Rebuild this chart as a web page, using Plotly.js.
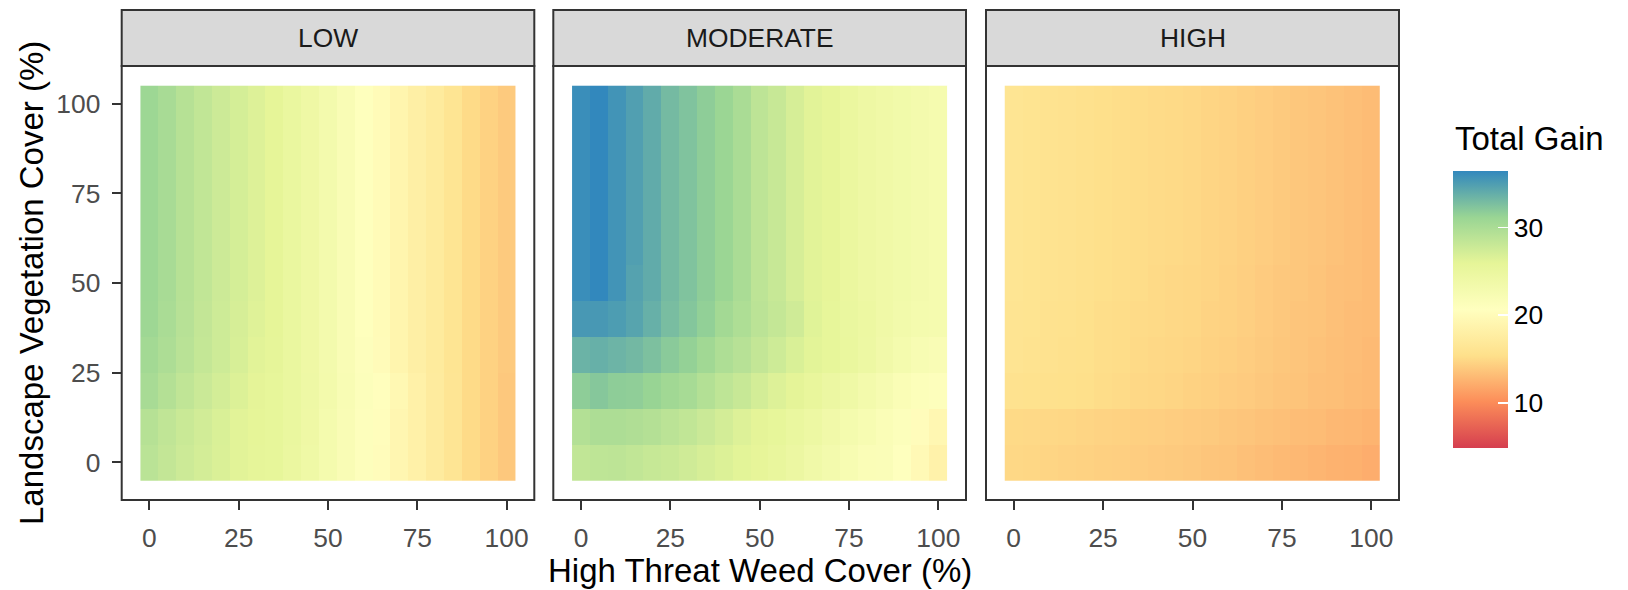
<!DOCTYPE html>
<html>
<head>
<meta charset="utf-8">
<script src="https://cdn.plot.ly/plotly-3.0.1.min.js"></script>
<style>html,body{margin:0;padding:0;background:#fff;}#chart{width:1628px;height:590px;}</style>
</head>
<body>
<div id="chart"></div>
<script>
// ---- data ----
const panels = ["LOW", "MODERATE", "HIGH"];
const weedCover = [0,5,10,15,20,25,30,35,40,45,50,55,60,65,70,75,80,85,90,95,100];
const vegCover = [0,10,20,30,40,50,60,70,80,90,100];
const xTicks = [0,25,50,75,100];
const yTicks = [0,25,50,75,100];
const legendTicks = [10,20,30];

// rows: vegCover 0 -> 100 ; columns: weedCover 0 -> 100
const lowGain = [
  [28.9,28.3,27.7,27.2,26.7,26.2,25.8,25.6,24.8,24.0,23.0,22.0,21.0,20.2,19.2,18.3,17.3,16.3,15.1,14.5,13.9],
  [29.2,28.5,27.9,27.3,26.8,26.2,25.9,25.6,25.0,24.1,23.0,22.0,21.0,20.3,19.2,18.3,17.3,16.3,15.1,14.5,13.9],
  [30.1,29.3,28.5,27.8,27.2,26.6,26.0,25.6,25.0,24.2,23.2,22.1,21.2,20.4,19.4,18.3,17.3,16.3,15.1,14.5,13.9],
  [30.5,29.8,29.0,28.2,27.6,26.9,26.2,25.8,25.0,24.1,23.1,22.0,21.0,20.0,18.9,18.0,17.2,16.2,15.1,14.5,14.0],
  [30.8,30.0,29.1,28.3,27.6,27.0,26.4,25.9,25.0,24.1,23.1,22.0,20.9,19.9,18.9,18.0,17.2,16.2,15.1,14.5,14.0],
  [30.9,30.1,29.2,28.4,27.7,27.1,26.5,25.9,25.0,24.1,23.1,22.0,20.9,19.9,18.9,18.0,17.2,16.2,15.1,14.5,14.0],
  [30.9,30.1,29.2,28.4,27.7,27.1,26.5,25.9,25.0,24.1,23.1,22.0,20.9,19.9,18.9,18.0,17.2,16.2,15.1,14.5,14.0],
  [30.9,30.1,29.2,28.4,27.7,27.1,26.5,25.9,25.0,24.1,23.1,22.0,20.9,19.9,18.9,18.0,17.2,16.2,15.1,14.5,14.0],
  [30.9,30.1,29.2,28.4,27.7,27.1,26.5,25.9,25.0,24.1,23.1,22.0,20.9,19.9,18.9,18.0,17.2,16.2,15.1,14.5,14.0],
  [30.9,30.1,29.2,28.4,27.7,27.1,26.5,25.9,25.0,24.1,23.1,22.0,20.9,19.9,18.9,18.0,17.2,16.2,15.1,14.5,14.0],
  [30.9,30.1,29.2,28.4,27.7,27.1,26.5,25.9,25.0,24.1,23.1,22.0,20.9,19.9,18.9,18.0,17.2,16.2,15.1,14.5,14.0]
];
const moderateGain = [
  [28.4,28.6,28.7,28.4,28.1,27.9,27.5,27.0,26.6,26.1,25.7,25.2,24.6,23.8,23.1,22.4,21.7,21.6,20.8,19.7,18.5],
  [29.4,29.8,29.8,29.6,29.3,28.8,28.4,27.8,27.2,26.5,26.0,25.6,25.0,24.4,23.6,22.9,22.4,21.7,21.2,20.2,19.3],
  [31.7,32.1,31.7,31.6,31.2,30.6,30.2,29.4,28.6,28.0,27.2,26.5,26.0,25.3,24.6,24.0,23.2,22.6,21.8,21.3,21.0],
  [33.5,33.7,33.4,33.1,32.6,31.9,31.4,30.6,29.7,29.1,28.3,27.6,26.8,26.1,25.6,25.1,24.4,23.6,22.9,22.3,22.0],
  [35.3,35.3,35.0,34.5,33.7,32.8,32.2,31.5,30.5,29.7,28.8,28.2,27.5,26.3,25.6,25.0,24.5,23.9,23.3,23.0,22.8],
  [36.0,36.4,35.6,34.6,34.0,33.0,32.4,31.7,31.0,30.0,28.7,28.0,27.0,26.2,25.7,24.9,24.3,23.9,23.5,23.1,22.8],
  [36.0,36.4,35.6,34.8,34.0,33.0,32.4,31.7,31.0,30.0,28.7,28.0,27.0,26.2,25.7,24.9,24.3,23.9,23.5,23.1,22.8],
  [36.0,36.4,35.6,34.8,34.0,33.0,32.4,31.7,31.0,30.0,28.7,28.0,27.0,26.2,25.7,24.9,24.3,23.9,23.5,23.1,22.8],
  [36.0,36.4,35.6,34.8,34.0,33.0,32.4,31.7,31.0,30.0,28.7,28.0,27.0,26.2,25.7,24.9,24.3,23.9,23.5,23.1,22.8],
  [36.0,36.4,35.6,34.8,34.0,33.0,32.4,31.7,31.0,30.0,28.7,28.0,27.0,26.2,25.7,24.9,24.3,23.9,23.5,23.1,22.8],
  [36.0,36.4,35.6,34.8,34.0,33.0,32.4,31.7,31.0,30.0,28.7,28.0,27.0,26.2,25.7,24.9,24.3,23.9,23.5,23.1,22.8]
];
const highGain = [
  [14.9,14.8,14.7,14.6,14.5,14.4,14.3,14.2,14.1,14.0,13.9,13.7,13.6,13.4,13.2,13.0,12.9,12.7,12.5,12.4,12.2],
  [15.0,14.95,14.9,14.8,14.7,14.6,14.5,14.4,14.3,14.2,14.1,14.0,13.8,13.7,13.5,13.4,13.2,13.1,12.9,12.8,12.6],
  [15.8,15.7,15.6,15.5,15.4,15.2,15.1,14.9,14.8,14.7,14.5,14.4,14.2,14.1,13.9,13.7,13.6,13.4,13.3,13.1,13.0],
  [16.1,15.9,15.8,15.6,15.5,15.3,15.2,15.0,14.9,14.8,14.7,14.5,14.4,14.2,14.0,13.8,13.7,13.5,13.3,13.2,13.0],
  [16.1,16.0,15.8,15.7,15.5,15.3,15.2,15.1,15.0,14.9,14.8,14.6,14.5,14.3,14.1,13.9,13.7,13.6,13.4,13.2,13.1],
  [16.2,16.0,15.9,15.8,15.6,15.4,15.3,15.2,15.0,14.9,14.8,14.7,14.5,14.3,14.1,13.9,13.8,13.6,13.4,13.3,13.1],
  [16.2,16.0,15.9,15.8,15.6,15.4,15.3,15.2,15.1,15.0,14.9,14.7,14.6,14.4,14.2,14.0,13.8,13.7,13.5,13.3,13.1],
  [16.2,16.0,15.9,15.8,15.6,15.4,15.3,15.2,15.1,15.0,14.9,14.7,14.6,14.4,14.2,14.0,13.8,13.7,13.5,13.3,13.1],
  [16.2,16.0,15.9,15.8,15.6,15.4,15.3,15.2,15.1,15.0,14.9,14.7,14.6,14.4,14.2,14.0,13.8,13.7,13.5,13.3,13.1],
  [16.2,16.0,15.9,15.8,15.6,15.4,15.3,15.2,15.1,15.0,14.9,14.7,14.6,14.4,14.2,14.0,13.8,13.7,13.5,13.3,13.1],
  [16.2,16.0,15.9,15.8,15.6,15.4,15.3,15.2,15.1,15.0,14.9,14.7,14.6,14.4,14.2,14.0,13.8,13.7,13.5,13.3,13.1]
];
const gainMin = 4.9, gainMax = 36.4;

// ---- geometry (px) ----
const W = 1628, H = 590;
const panelX = [[121.7, 534.3], [553.3, 966], [986, 1399]];
const panelTop = 66, panelBottom = 500, stripTop = 10;
const barLeft = 1453.3, barTop = 171, barLen = 277, barThick = 55;
const FONT = "Liberation Sans, Arial, sans-serif";

const spectral = [
  [0, "#D53E4F"], [1/6, "#FC8D59"], [2/6, "#FEE08B"], [3/6, "#FFFFBF"],
  [4/6, "#E6F598"], [5/6, "#99D594"], [1, "#3288BD"]
];

const zs = [lowGain, moderateGain, highGain];
const traces = zs.map((z, i) => ({
  type: "heatmap",
  x: weedCover, y: vegCover, z: z,
  xaxis: i === 0 ? "x" : "x" + (i + 1),
  yaxis: i === 0 ? "y" : "y" + (i + 1),
  coloraxis: "coloraxis",
  hoverinfo: "skip"
}));

const yDom = [1 - panelBottom / H, 1 - panelTop / H];
const layout = {
  width: W, height: H,
  margin: {l: 0, r: 0, t: 0, b: 0},
  paper_bgcolor: "#fff", plot_bgcolor: "#fff",
  font: {family: FONT},
  showlegend: false,
  coloraxis: {
    cmin: gainMin, cmax: gainMax, colorscale: spectral,
    colorbar: {
      thickness: barThick, thicknessmode: "pixels",
      len: barLen, lenmode: "pixels",
      x: barLeft / W, xanchor: "left",
      y: 1 - barTop / H, yanchor: "top",
      xpad: 0, ypad: 0, outlinewidth: 0,
      tickvals: legendTicks, ticks: "inside", ticklen: 10,
      tickcolor: "#ffffff", tickwidth: 1.5,
      tickprefix: "\u00a0\u00a0",
      tickfont: {size: 26.4, color: "#000", family: FONT}
    }
  },
  shapes: [],
  annotations: []
};

for (let i = 0; i < 3; i++) {
  const xs = i === 0 ? "" : String(i + 1);
  const xd = [panelX[i][0] / W, panelX[i][1] / W];
  layout["xaxis" + xs] = {
    domain: xd, anchor: "y" + xs, range: [-7.75, 107.75],
    tickvals: xTicks, ticks: "outside", ticklen: 9, tickwidth: 2, tickcolor: "#333333",
    tickfont: {size: 26.4, color: "#4D4D4D", family: FONT},
    showgrid: false, zeroline: false, showline: false, fixedrange: true,
    ticklabelstandoff: 5
  };
  layout["yaxis" + xs] = {
    domain: yDom, anchor: "x" + xs, range: [-10.5, 110.5],
    tickvals: yTicks, ticks: i === 0 ? "outside" : "", ticklen: 9, tickwidth: 2, tickcolor: "#333333",
    showticklabels: i === 0,
    tickfont: {size: 26.4, color: "#4D4D4D", family: FONT},
    showgrid: false, zeroline: false, showline: false, fixedrange: true,
    ticklabelstandoff: 6
  };
  // panel border
  layout.shapes.push({
    type: "rect", xref: "paper", yref: "paper",
    x0: xd[0], x1: xd[1], y0: yDom[0], y1: yDom[1],
    line: {color: "#333333", width: 2}, fillcolor: "rgba(0,0,0,0)", layer: "above"
  });
  // strip
  layout.shapes.push({
    type: "rect", xref: "paper", yref: "paper",
    x0: xd[0], x1: xd[1], y0: 1 - panelTop / H, y1: 1 - stripTop / H,
    line: {color: "#333333", width: 2}, fillcolor: "#D9D9D9", layer: "above"
  });
  layout.annotations.push({
    xref: "paper", yref: "paper",
    x: (xd[0] + xd[1]) / 2, y: 1 - ((stripTop + panelTop) / 2) / H,
    text: panels[i], showarrow: false, xanchor: "center", yanchor: "middle",
    font: {size: 26.4, color: "#1A1A1A", family: FONT}
  });
}

// axis titles & legend title
layout.annotations.push({
  xref: "paper", yref: "paper", x: 760 / W, y: 1 - 590 / H,
  text: "High Threat Weed Cover (%)", showarrow: false,
  xanchor: "center", yanchor: "bottom", yshift: -1,
  font: {size: 33, color: "#000", family: FONT}
});
layout.annotations.push({
  xref: "paper", yref: "paper", x: 31 / W, y: 1 - 283 / H,
  text: "Landscape Vegetation Cover (%)", showarrow: false, textangle: -90,
  xanchor: "center", yanchor: "middle",
  font: {size: 33, color: "#000", family: FONT}
});
layout.annotations.push({
  xref: "paper", yref: "paper", x: 1453 / W, y: 1 - 138 / H,
  text: "Total Gain", showarrow: false,
  xanchor: "left", yanchor: "middle",
  font: {size: 33, color: "#000", family: FONT}
});

Plotly.newPlot("chart", traces, layout, {displayModeBar: false, staticPlot: true});
</script>
</body>
</html>
